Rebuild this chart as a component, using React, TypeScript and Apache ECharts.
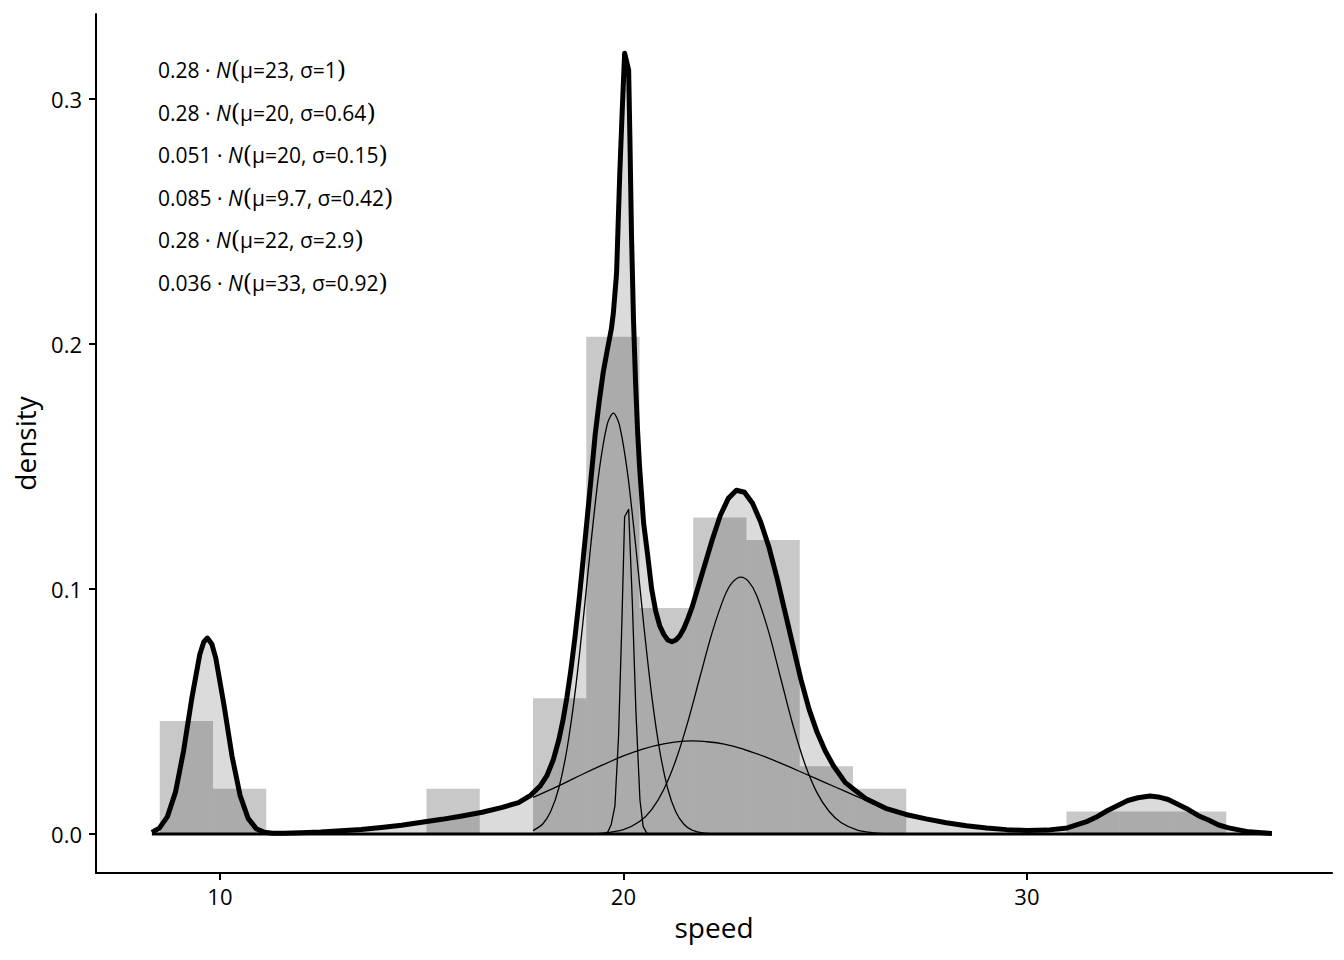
import React, { useEffect, useRef } from "react";
import * as echarts from "echarts";

// Histogram (bins = 20), density scale
const binEdges = [8.51, 9.83, 11.15, 12.48, 13.8, 15.12, 16.44, 17.76, 19.08, 20.4, 21.73, 23.05, 24.37, 25.69, 27.01, 28.33, 29.65, 30.98, 32.3, 33.62, 34.94];
const binDensity = [0.0461, 0.0185, 0, 0, 0, 0.0185, 0, 0.0554, 0.203, 0.0923, 0.1292, 0.12, 0.0277, 0.0185, 0, 0, 0, 0.0092, 0.0092, 0.0092];

// Mixture density (thick line), [speed, density]
const mixture: number[][] = [
  [8.315, 0.0007], [8.5, 0.0024], [8.7, 0.0071], [8.9, 0.0171], [9.1, 0.0339], [9.3, 0.055], [9.5, 0.0732],
  [9.6, 0.0784], [9.69, 0.08], [9.8, 0.0776], [9.9, 0.0717], [10.1, 0.0528], [10.3, 0.0319], [10.5, 0.0158],
  [10.7, 0.0064], [10.9, 0.0022], [11.1, 0.0007], [11.3, 0.0003], [11.6, 0.0003], [12.0, 0.0005], [12.5, 0.0008],
  [13.0, 0.0013], [13.5, 0.0019], [14.0, 0.0027], [14.5, 0.0036], [15.0, 0.0048], [15.5, 0.006], [16.0, 0.0074],
  [16.5, 0.0089], [17.0, 0.0109], [17.4, 0.0128], [17.7, 0.0158], [17.93, 0.0195], [18.1, 0.0237], [18.26, 0.0302],
  [18.4, 0.0385], [18.5, 0.0462], [18.6, 0.0558], [18.7, 0.0672], [18.8, 0.0804], [18.9, 0.0953], [19.0, 0.1116],
  [19.1, 0.1285], [19.2, 0.1455], [19.3, 0.163], [19.4, 0.1765], [19.5, 0.1885], [19.6, 0.1975], [19.7, 0.206],
  [19.75, 0.2125], [19.83, 0.2288], [19.91, 0.2697], [19.97, 0.295], [20.03, 0.3187], [20.13, 0.3118], [20.16, 0.285],
  [20.2, 0.245], [20.25, 0.21], [20.3, 0.185], [20.35, 0.165], [20.4, 0.15], [20.5, 0.127], [20.6, 0.114],
  [20.7, 0.1], [20.8, 0.091], [20.9, 0.085], [21.0, 0.0815], [21.1, 0.0792], [21.2, 0.0785], [21.3, 0.0792],
  [21.4, 0.081], [21.5, 0.084], [21.6, 0.088], [21.7, 0.0925], [21.8, 0.098], [22.0, 0.109], [22.2, 0.12],
  [22.4, 0.13], [22.6, 0.137], [22.8, 0.1403], [23.0, 0.1395], [23.2, 0.135], [23.4, 0.1275], [23.6, 0.1175],
  [23.8, 0.105], [24.0, 0.091], [24.2, 0.077], [24.4, 0.063], [24.6, 0.051], [24.8, 0.0415], [25.0, 0.034],
  [25.2, 0.028], [25.5, 0.021], [26.0, 0.0145], [26.5, 0.0105], [27.0, 0.008], [27.5, 0.0062], [28.0, 0.0046],
  [28.5, 0.0034], [29.0, 0.0025], [29.5, 0.0018], [30.0, 0.0014], [30.5, 0.0016], [31.0, 0.0025], [31.5, 0.0052],
  [31.75, 0.0072], [32.0, 0.0096], [32.25, 0.0116], [32.5, 0.0137], [32.75, 0.0148], [33.05, 0.0155], [33.3, 0.015],
  [33.5, 0.0141], [33.75, 0.0121], [34.0, 0.01], [34.25, 0.0075], [34.5, 0.0057], [34.75, 0.0037], [35.0, 0.0025],
  [35.5, 0.0009], [36.07, 0.0002],
];

// Weighted components (thin lines)
const compB: number[][] = [
  [17.76, 0.0014], [18.0, 0.0041], [18.2, 0.0093], [18.4, 0.0188], [18.6, 0.0345], [18.8, 0.0575], [19.0, 0.0869],
  [19.2, 0.1193], [19.4, 0.1483], [19.6, 0.1673], [19.75, 0.1718], [19.9, 0.167], [20.1, 0.1476], [20.3, 0.1183],
  [20.5, 0.086], [20.7, 0.0567], [20.9, 0.034], [21.1, 0.0184], [21.3, 0.009], [21.5, 0.004], [21.7, 0.0016],
  [22.0, 0.0004], [22.4, 0.0001], [27.01, 0],
];
const compC: number[][] = [
  [17.76, 0], [19.55, 0], [19.62, 0.001], [19.7, 0.004], [19.79, 0.0115], [19.88, 0.04], [19.96, 0.085],
  [20.03, 0.1295], [20.13, 0.1325], [20.22, 0.095], [20.31, 0.05], [20.41, 0.0139], [20.49, 0.003], [20.58, 0.0004],
  [20.65, 0], [27.01, 0],
];
const compD: number[][] = [
  [17.76, 0], [19.0, 0.0001], [19.5, 0.0004], [20.0, 0.0018], [20.4, 0.0051], [20.7, 0.01], [21.0, 0.0182],
  [21.3, 0.0302], [21.6, 0.046], [21.9, 0.0643], [22.2, 0.0823], [22.5, 0.0968], [22.7, 0.1027], [22.91, 0.1049],
  [23.1, 0.1031], [23.3, 0.0975], [23.6, 0.0825], [23.9, 0.0635], [24.2, 0.0445], [24.5, 0.0285], [24.8, 0.0168],
  [25.1, 0.0092], [25.4, 0.0046], [25.8, 0.0016], [26.2, 0.0005], [26.6, 0.0001], [27.01, 0],
];
const compE: number[][] = [
  [17.76, 0.015], [18.0, 0.0167], [18.5, 0.0205], [19.0, 0.0245], [19.5, 0.0283], [20.0, 0.0319], [20.5, 0.0348],
  [21.0, 0.0368], [21.5, 0.0379], [21.72, 0.038], [22.0, 0.0378], [22.5, 0.0367], [23.0, 0.0345], [23.5, 0.0316],
  [24.0, 0.0282], [24.5, 0.0246], [25.0, 0.021], [25.5, 0.0174], [26.0, 0.0138], [26.5, 0.0102], [27.01, 0.0078],
];
const baselineRange: number[][] = [[8.315, 0], [36.07, 0]];

const xTicks = [10, 20, 30];
const yTicks = [0, 0.1, 0.2, 0.3];

const weights = ["0.28", "0.28", "0.051", "0.085", "0.28", "0.036"];
const means = ["23", "20", "20", "9.7", "22", "33"];
const sds = ["1", "0.64", "0.15", "0.42", "2.9", "0.92"];

const FONT = "'Open Sans', 'Noto Sans', 'DejaVu Sans', sans-serif";

function buildOption(): any {
  const histData = binDensity.map((d, i) => [binEdges[i], binEdges[i + 1], d]);
  const thin = (data: number[][], smooth: number | boolean) => ({
    type: "line",
    data,
    showSymbol: false,
    symbol: "none",
    silent: true,
    smooth,
    lineStyle: { color: "#000", width: 1.3, join: "round" },
    z: 4,
  });

  const annotations = weights.map((w, i) => ({
    type: "text",
    x: 158,
    y: 70 + i * 42.6,
    silent: true,
    style: {
      text: `{a|${w} · }{n|N}{p|(}{a|μ=${means[i]}, σ=${sds[i]}}{p|)}`,
      verticalAlign: "middle",
      align: "left",
      fill: "#000",
      fontFamily: FONT,
      fontSize: 21,
      rich: {
        a: { fontSize: 21, fontFamily: FONT, color: "#000" },
        n: { fontSize: 21, fontFamily: FONT, fontStyle: "italic", color: "#000" },
        p: { fontSize: 24, fontFamily: "'DejaVu Serif', serif", color: "#000" },
      },
    },
  }));

  return {
    animation: false,
    backgroundColor: "#ffffff",
    textStyle: { fontFamily: FONT },
    grid: { left: 96, right: 12, top: 14, bottom: 87, containLabel: false },
    xAxis: {
      type: "value",
      min: 6.93,
      max: 37.56,
      name: "speed",
      nameLocation: "middle",
      nameGap: 40,
      nameMoveOverlap: false,
      nameTextStyle: { fontSize: 28, color: "#000", fontFamily: FONT, lineHeight: 28 },
      axisLine: { show: true, onZero: false, lineStyle: { color: "#000", width: 2 } },
      axisTick: { show: true, length: 7, lineStyle: { color: "#000", width: 2 }, customValues: xTicks },
      axisLabel: { show: true, customValues: xTicks, fontSize: 22, color: "#000", margin: 12, fontFamily: FONT },
      splitLine: { show: false },
    },
    yAxis: {
      type: "value",
      min: -0.0159,
      max: 0.3347,
      name: "density",
      nameLocation: "middle",
      nameGap: 57,
      nameRotate: 90,
      nameMoveOverlap: false,
      nameTextStyle: { fontSize: 28, color: "#000", fontFamily: FONT, lineHeight: 28 },
      axisLine: { show: true, onZero: false, lineStyle: { color: "#000", width: 2 } },
      axisTick: { show: true, length: 7, lineStyle: { color: "#000", width: 2 }, customValues: yTicks },
      axisLabel: {
        show: true,
        customValues: yTicks,
        fontSize: 22,
        color: "#000",
        margin: 14,
        fontFamily: FONT,
        formatter: (v: number) => v.toFixed(1),
      },
      splitLine: { show: false },
    },
    graphic: annotations,
    series: [
      {
        type: "custom",
        name: "histogram",
        data: histData,
        encode: { x: [0, 1], y: 2 },
        silent: true,
        z: 1,
        renderItem: (_params: any, api: any) => {
          const h = api.value(2);
          if (!h) return null;
          const p0 = api.coord([api.value(0), 0]);
          const p1 = api.coord([api.value(1), h]);
          return {
            type: "rect",
            shape: { x: p0[0], y: p1[1], width: p1[0] - p0[0], height: p0[1] - p1[1] },
            style: { fill: "rgba(0,0,0,0.216)" },
          };
        },
      },
      {
        type: "line",
        name: "densityArea",
        data: mixture,
        showSymbol: false,
        symbol: "none",
        silent: true,
        lineStyle: { width: 0, opacity: 0 },
        areaStyle: { color: "rgba(0,0,0,0.2)", origin: "auto" },
        z: 2,
      },
      {
        type: "line",
        name: "baseline",
        data: baselineRange,
        showSymbol: false,
        symbol: "none",
        silent: true,
        lineStyle: { color: "#000", width: 3 },
        z: 3,
      },
      thin(compE, 0.4),
      thin(compB, 0.3),
      thin(compC, false),
      thin(compD, 0.3),
      {
        type: "line",
        name: "mixture",
        data: mixture,
        showSymbol: false,
        symbol: "none",
        silent: true,
        lineStyle: { color: "#000", width: 5, join: "round", cap: "butt" },
        z: 5,
      },
    ],
  };
}

export default function App() {
  const ref = useRef<HTMLDivElement>(null);
  useEffect(() => {
    if (!ref.current) return;
    const chart = echarts.init(ref.current, undefined, { renderer: "svg" });
    chart.setOption(buildOption());
    return () => chart.dispose();
  }, []);
  return (
    <div
      ref={ref}
      style={{ position: "fixed", left: 0, top: 0, width: 1344, height: 960, background: "#ffffff" }}
    />
  );
}
